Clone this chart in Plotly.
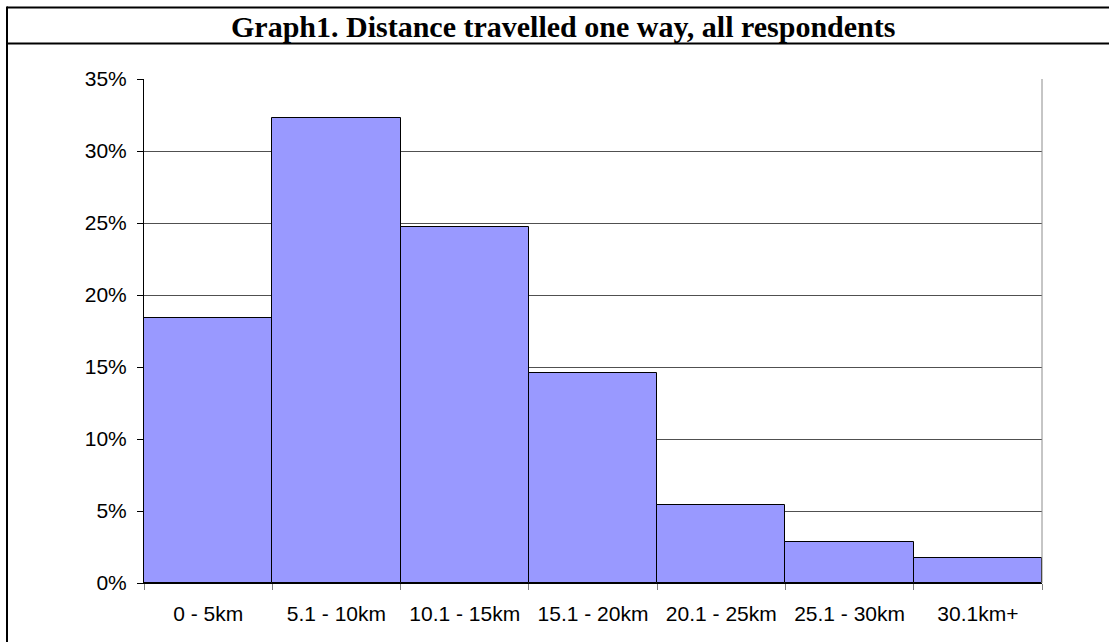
import plotly.graph_objects as go

categories = ["0 - 5km", "5.1 - 10km", "10.1 - 15km", "15.1 - 20km",
              "20.1 - 25km", "25.1 - 30km", "30.1km+"]
shares = [0.184, 0.323, 0.247, 0.146, 0.0545, 0.0284, 0.0171]
y_ticks = [0, 0.05, 0.10, 0.15, 0.20, 0.25, 0.30, 0.35]
title_text = "Graph1. Distance travelled one way, all respondents"

W, H = 1109, 642
L, R, T, B = 144, 67, 79, 59
pw, ph = W - L - R, H - T - B

def px(x):
    return (x - L) / pw

def py(y):
    return (H - B - y) / ph

fig = go.Figure(go.Bar(
    x=categories, y=shares,
    marker=dict(color="#9999FF", line=dict(color="#000000", width=1)),
    hoverinfo="x+y",
))

fig.update_layout(
    width=W, height=H,
    margin=dict(l=L, r=R, t=T, b=B),
    paper_bgcolor="white", plot_bgcolor="white",
    bargap=0, showlegend=False,
    font=dict(family="Liberation Sans, Arial, sans-serif", size=21, color="black"),
    xaxis=dict(
        type="category", tickson="boundaries",
        showgrid=False, showline=True, linecolor="black", linewidth=1,
        ticks="outside", ticklen=6, tickcolor="#808080",
        ticklabelstandoff=12,
        tickfont=dict(size=21),
    ),
    yaxis=dict(
        range=[0, 0.35], tickvals=y_ticks, tickformat=".0%",
        showgrid=True, gridcolor="#505050", gridwidth=1,
        showline=True, linecolor="black", linewidth=1,
        ticks="outside", ticklen=6, tickcolor="black",
        ticklabelstandoff=6, zeroline=False,
        tickfont=dict(size=21),
    ),
)

frame = dict(color="black", width=2)
shapes = [
    dict(type="line", xref="paper", yref="paper", x0=1, x1=1, y0=0, y1=1,
         line=dict(color="#8c8c8c", width=1)),
    dict(type="line", xref="paper", yref="paper", x0=px(7), x1=px(W + 5),
         y0=py(7.5), y1=py(7.5), line=frame),
    dict(type="line", xref="paper", yref="paper", x0=px(7), x1=px(W + 5),
         y0=py(43.5), y1=py(43.5), line=frame),
    dict(type="line", xref="paper", yref="paper", x0=px(7), x1=px(7),
         y0=py(6.5), y1=py(H + 5), line=frame),
]
fig.update_layout(shapes=shapes)

fig.add_annotation(
    text="<b>" + title_text + "</b>", xref="paper", yref="paper",
    x=px(563), y=py(27), xanchor="center", yanchor="middle", showarrow=False,
    font=dict(family="Liberation Serif, Times New Roman, serif", size=30, color="black"),
)

fig.write_html("out.html",
               config={"displayModeBar": False},
               post_script="document.body.style.margin='0';document.body.style.overflow='hidden';")
